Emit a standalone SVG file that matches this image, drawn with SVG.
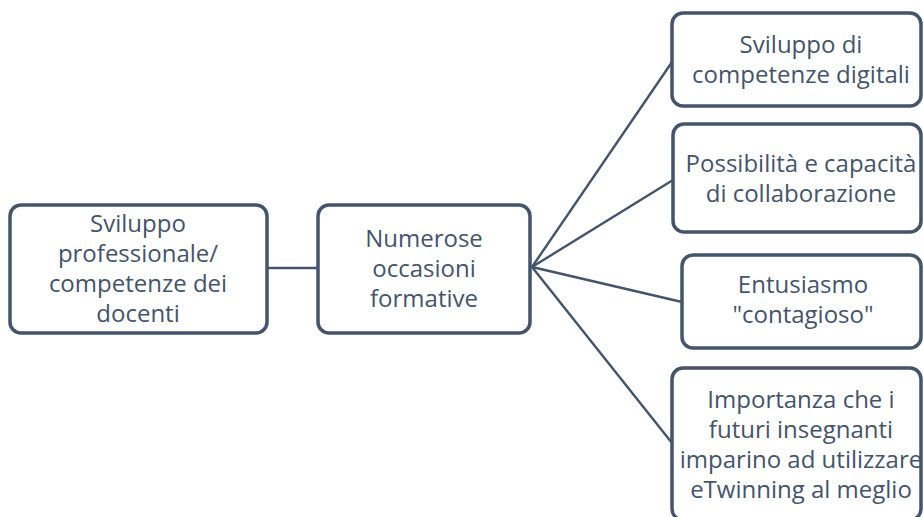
<svg xmlns="http://www.w3.org/2000/svg" width="923" height="517" viewBox="0 0 923 517">
<style>
.box{fill:#ffffff;stroke:#44546A;stroke-width:3.5}
.t{font-family:"Open Sans","Noto Sans",sans-serif;font-size:24px;fill:#44546A;text-anchor:middle}
.c{stroke:#44546A;stroke-width:2.4;fill:none}
</style>
<rect width="923" height="517" fill="#ffffff"/>
<g id="connectors">
<line class="c" x1="267" y1="268" x2="318" y2="268"/>
<line class="c" x1="532" y1="267" x2="672" y2="62"/>
<line class="c" x1="532" y1="267" x2="673" y2="180"/>
<line class="c" x1="532" y1="267" x2="682" y2="302"/>
<line class="c" x1="532" y1="267" x2="672" y2="443"/>
</g>
<g id="n1">
<rect class="box" x="10" y="205" width="257" height="128" rx="11"/>
<text class="t" x="138" y="232">Sviluppo</text>
<text class="t" x="138" y="262">professionale/</text>
<text class="t" x="138" y="292">competenze dei</text>
<text class="t" x="138" y="322">docenti</text>
</g>
<g id="n2">
<rect class="box" x="318" y="205" width="212" height="128" rx="11"/>
<text class="t" x="424" y="247">Numerose</text>
<text class="t" x="424" y="277">occasioni</text>
<text class="t" x="424" y="307">formative</text>
</g>
<g id="n3">
<rect class="box" x="672" y="13" width="249" height="93" rx="11"/>
<text class="t" x="801" y="53">Sviluppo di</text>
<text class="t" x="801" y="83">competenze digitali</text>
</g>
<g id="n4">
<rect class="box" x="673" y="124" width="248" height="108" rx="11"/>
<text class="t" x="801" y="172">Possibilità e capacità</text>
<text class="t" x="801" y="202">di collaborazione</text>
</g>
<g id="n5">
<rect class="box" x="682" y="255" width="239" height="93" rx="11"/>
<text class="t" x="803" y="293">Entusiasmo</text>
<text class="t" x="803" y="323">"contagioso"</text>
</g>
<g id="n6">
<rect class="box" x="672" y="368" width="249" height="152" rx="11"/>
<text class="t" x="801" y="408">Importanza che i</text>
<text class="t" x="801" y="438">futuri insegnanti</text>
<text class="t" x="801" y="468">imparino ad utilizzare</text>
<text class="t" x="801" y="498">eTwinning al meglio</text>
</g>
</svg>
